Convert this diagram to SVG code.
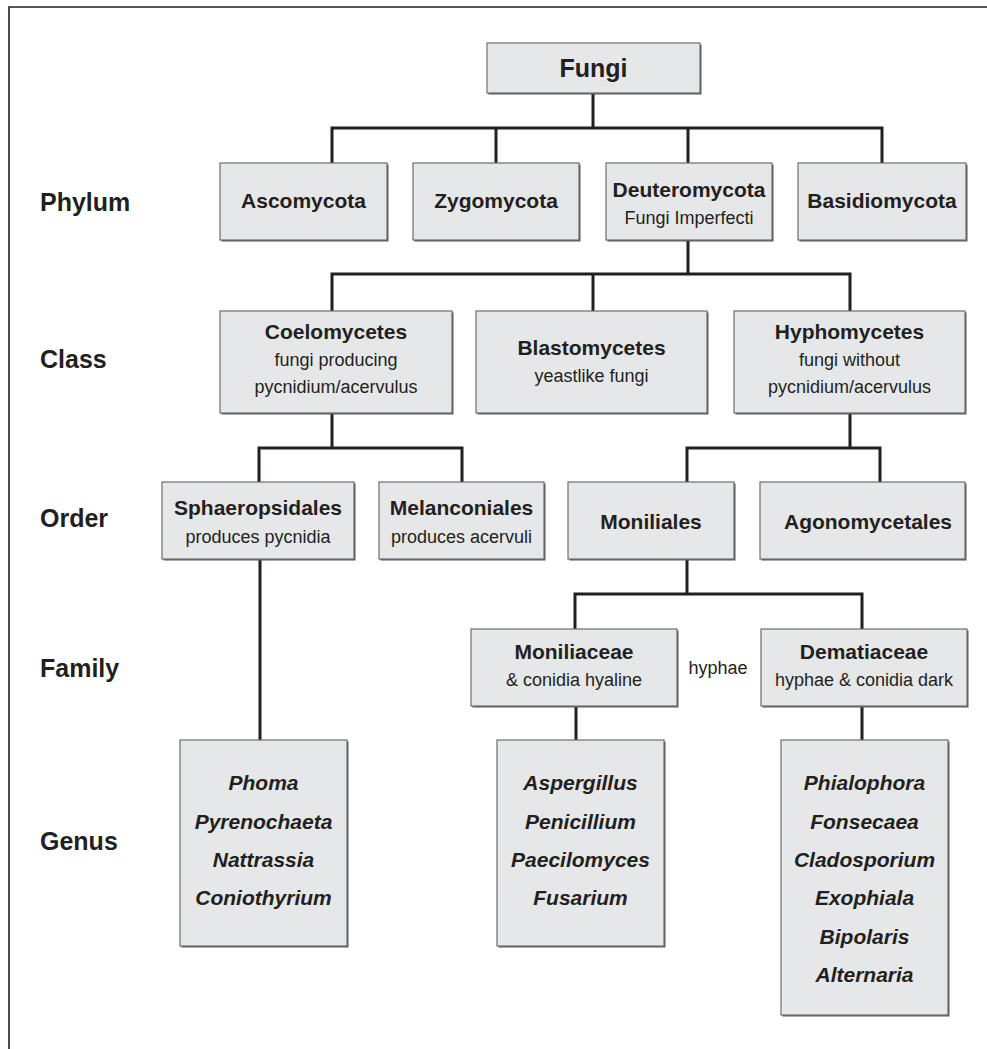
<svg xmlns="http://www.w3.org/2000/svg" width="987" height="1049" viewBox="0 0 987 1049">
<style>
  .box { fill: #e6e7e8; stroke: #6d6e71; stroke-width: 1.2; }
  .sh { fill: #58595b; }
  .conn { fill: none; stroke: #231f20; stroke-width: 3; stroke-linejoin: miter; stroke-linecap: square; }
  .frame { fill: none; stroke: #231f20; stroke-width: 1.6; }
  text { font-family: "Liberation Sans", Arial, Helvetica, sans-serif; fill: #231f20; text-anchor: middle; }
  .b { font-weight: bold; font-size: 21px; }
  .s { font-size: 18px; }
  .g { font-weight: bold; font-style: italic; font-size: 21px; }
  .rank { font-weight: bold; font-size: 25px; text-anchor: start; }
  .top { font-weight: bold; font-size: 25px; }
</style>
<rect width="987" height="1049" fill="#ffffff"/>
<path class="frame" d="M9,1049 V7 H987"/>

<g id="rank-labels">
  <text class="rank" x="40" y="211">Phylum</text>
  <text class="rank" x="40" y="368">Class</text>
  <text class="rank" x="40" y="527">Order</text>
  <text class="rank" x="40" y="677">Family</text>
  <text class="rank" x="40" y="850">Genus</text>
</g>

<g id="connectors">
  <path class="conn" d="M593,93 V128 M332,128 H882 M332,128 V163 M496,128 V163 M688,128 V163 M882,128 V163"/>
  <path class="conn" d="M688,240 V274 M332,274 H850 M332,274 V311 M593,274 V311 M850,274 V311"/>
  <path class="conn" d="M332,413 V448 M259,448 H462 M259,448 V482 M462,448 V482"/>
  <path class="conn" d="M850,413 V448 M687,448 H880 M687,448 V482 M880,448 V482"/>
  <path class="conn" d="M260,559 V740"/>
  <path class="conn" d="M687,559 V594 M575,594 H862 M575,594 V629 M862,594 V629"/>
  <path class="conn" d="M576,706 V740 M862,706 V740"/>
</g>

<g id="node-fungi">
  <rect class="sh" x="488.5" y="44.5" width="213" height="50"/>
  <rect class="box" x="487" y="43" width="213" height="50"/>
  <text class="top" x="593.5" y="77">Fungi</text>
</g>

<g id="node-ascomycota">
  <rect class="sh" x="221.5" y="164.5" width="167" height="77"/>
  <rect class="box" x="220" y="163" width="167" height="77"/>
  <text class="b" x="303.5" y="208">Ascomycota</text>
</g>
<g id="node-zygomycota">
  <rect class="sh" x="414.5" y="164.5" width="166" height="77"/>
  <rect class="box" x="413" y="163" width="166" height="77"/>
  <text class="b" x="496" y="208">Zygomycota</text>
</g>
<g id="node-deuteromycota">
  <rect class="sh" x="607.5" y="164.5" width="166" height="77"/>
  <rect class="box" x="606" y="163" width="166" height="77"/>
  <text class="b" x="689" y="197">Deuteromycota</text>
  <text class="s" x="689" y="224">Fungi Imperfecti</text>
</g>
<g id="node-basidiomycota">
  <rect class="sh" x="799.5" y="164.5" width="168" height="77"/>
  <rect class="box" x="798" y="163" width="168" height="77"/>
  <text class="b" x="882" y="208">Basidiomycota</text>
</g>

<g id="node-coelomycetes">
  <rect class="sh" x="221.5" y="312.5" width="232" height="102"/>
  <rect class="box" x="220" y="311" width="232" height="102"/>
  <text class="b" x="336" y="339">Coelomycetes</text>
  <text class="s" x="336" y="366">fungi producing</text>
  <text class="s" x="336" y="393">pycnidium/acervulus</text>
</g>
<g id="node-blastomycetes">
  <rect class="sh" x="477.5" y="312.5" width="231" height="102"/>
  <rect class="box" x="476" y="311" width="231" height="102"/>
  <text class="b" x="591.5" y="355">Blastomycetes</text>
  <text class="s" x="591.5" y="382">yeastlike fungi</text>
</g>
<g id="node-hyphomycetes">
  <rect class="sh" x="735.5" y="312.5" width="231" height="102"/>
  <rect class="box" x="734" y="311" width="231" height="102"/>
  <text class="b" x="849.5" y="339">Hyphomycetes</text>
  <text class="s" x="849.5" y="366">fungi without</text>
  <text class="s" x="849.5" y="393">pycnidium/acervulus</text>
</g>

<g id="node-sphaeropsidales">
  <rect class="sh" x="163.5" y="483.5" width="192" height="77"/>
  <rect class="box" x="162" y="482" width="192" height="77"/>
  <text class="b" x="258" y="515">Sphaeropsidales</text>
  <text class="s" x="258" y="543">produces pycnidia</text>
</g>
<g id="node-melanconiales">
  <rect class="sh" x="380.5" y="483.5" width="165" height="77"/>
  <rect class="box" x="379" y="482" width="165" height="77"/>
  <text class="b" x="461.5" y="515">Melanconiales</text>
  <text class="s" x="461.5" y="543">produces acervuli</text>
</g>
<g id="node-moniliales">
  <rect class="sh" x="569.5" y="483.5" width="166" height="77"/>
  <rect class="box" x="568" y="482" width="166" height="77"/>
  <text class="b" x="651" y="529">Moniliales</text>
</g>
<g id="node-agonomycetales">
  <rect class="sh" x="761.5" y="483.5" width="205" height="77"/>
  <rect class="box" x="760" y="482" width="205" height="77"/>
  <text class="b" x="868" y="529">Agonomycetales</text>
</g>

<g id="node-moniliaceae">
  <rect class="sh" x="472.5" y="630.5" width="206" height="77"/>
  <rect class="box" x="471" y="629" width="206" height="77"/>
  <text class="b" x="574" y="659">Moniliaceae</text>
  <text class="s" x="574" y="686">&amp; conidia hyaline</text>
</g>
<g id="label-hyphae">
  <text class="s" x="718" y="674">hyphae</text>
</g>
<g id="node-dematiaceae">
  <rect class="sh" x="762.5" y="630.5" width="206" height="77"/>
  <rect class="box" x="761" y="629" width="206" height="77"/>
  <text class="b" x="864" y="659">Dematiaceae</text>
  <text class="s" x="864" y="686">hyphae &amp; conidia dark</text>
</g>

<g id="node-genus-sphaeropsidales">
  <rect class="sh" x="181.5" y="741.5" width="167" height="206"/>
  <rect class="box" x="180" y="740" width="167" height="206"/>
  <text class="g" x="263.5" y="790">Phoma</text>
  <text class="g" x="263.5" y="829">Pyrenochaeta</text>
  <text class="g" x="263.5" y="867">Nattrassia</text>
  <text class="g" x="263.5" y="905">Coniothyrium</text>
</g>
<g id="node-genus-moniliaceae">
  <rect class="sh" x="498.5" y="741.5" width="167" height="206"/>
  <rect class="box" x="497" y="740" width="167" height="206"/>
  <text class="g" x="580.5" y="790">Aspergillus</text>
  <text class="g" x="580.5" y="829">Penicillium</text>
  <text class="g" x="580.5" y="867">Paecilomyces</text>
  <text class="g" x="580.5" y="905">Fusarium</text>
</g>
<g id="node-genus-dematiaceae">
  <rect class="sh" x="782.5" y="741.5" width="167" height="275"/>
  <rect class="box" x="781" y="740" width="167" height="275"/>
  <text class="g" x="864.5" y="790">Phialophora</text>
  <text class="g" x="864.5" y="829">Fonsecaea</text>
  <text class="g" x="864.5" y="867">Cladosporium</text>
  <text class="g" x="864.5" y="905">Exophiala</text>
  <text class="g" x="864.5" y="944">Bipolaris</text>
  <text class="g" x="864.5" y="982">Alternaria</text>
</g>
</svg>
